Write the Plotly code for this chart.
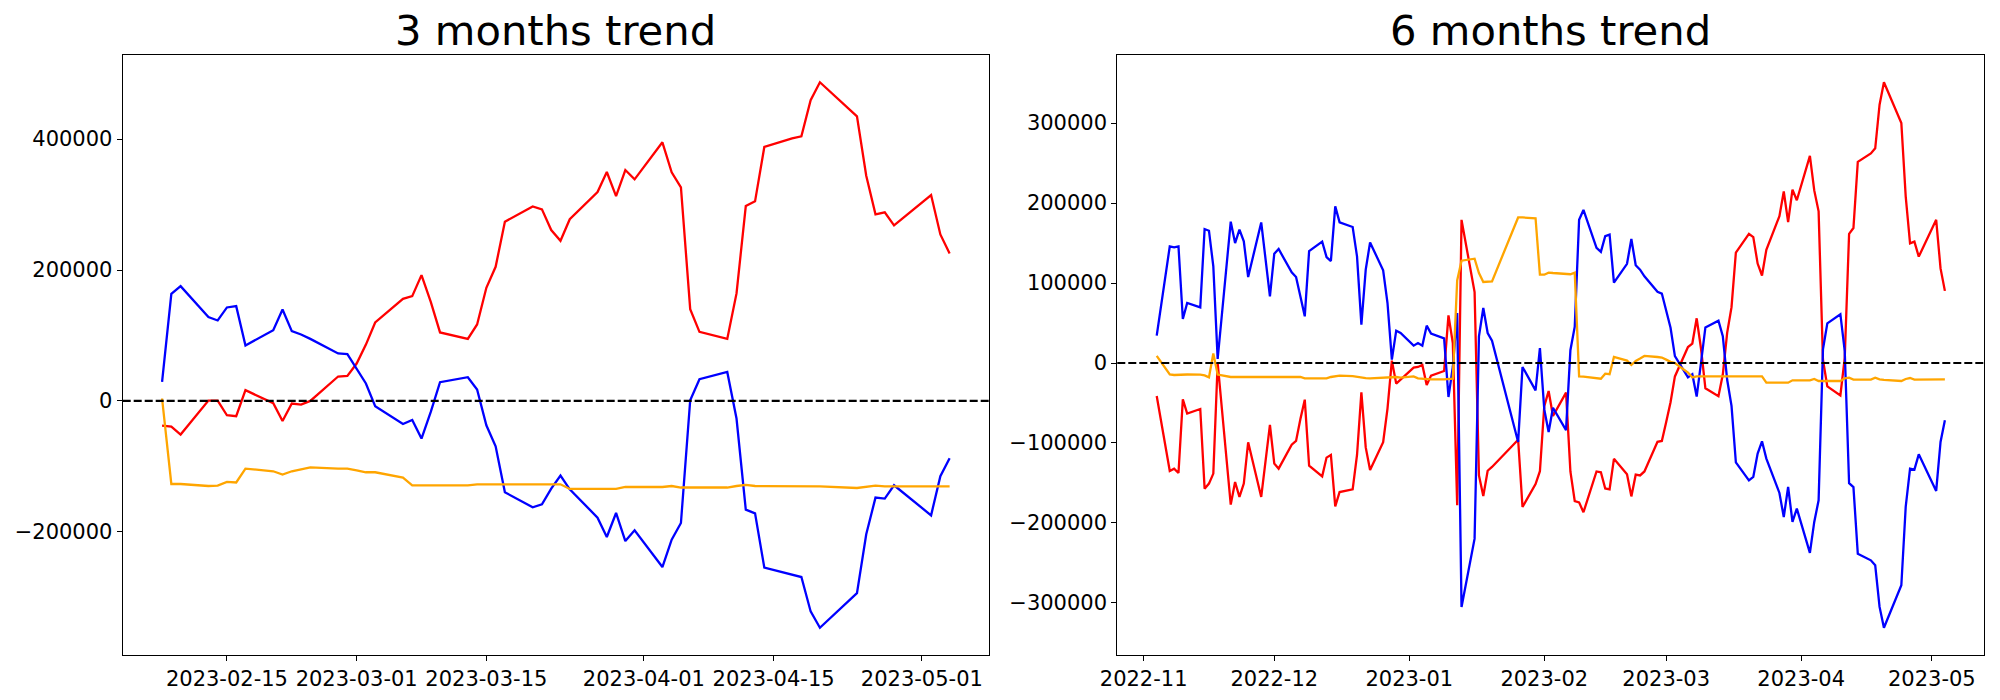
import plotly.graph_objects as go
import pandas as pd

# ---------------- 3 months panel ----------------
dates_3m = [
    "2023-02-08", "2023-02-09", "2023-02-10", "2023-02-13", "2023-02-14", "2023-02-15", "2023-02-16",
    "2023-02-17", "2023-02-20", "2023-02-21", "2023-02-22", "2023-02-23", "2023-02-24", "2023-02-27",
    "2023-02-28",
    "2023-03-01", "2023-03-02", "2023-03-03", "2023-03-06", "2023-03-07", "2023-03-08", "2023-03-09",
    "2023-03-10", "2023-03-13", "2023-03-14", "2023-03-15", "2023-03-16", "2023-03-17", "2023-03-20",
    "2023-03-21", "2023-03-22", "2023-03-23", "2023-03-24", "2023-03-27", "2023-03-28", "2023-03-29",
    "2023-03-30", "2023-03-31",
    "2023-04-03", "2023-04-04", "2023-04-05", "2023-04-06", "2023-04-07", "2023-04-10", "2023-04-11",
    "2023-04-12", "2023-04-13", "2023-04-14", "2023-04-17", "2023-04-18", "2023-04-19", "2023-04-20",
    "2023-04-24", "2023-04-25", "2023-04-26", "2023-04-27", "2023-04-28",
    "2023-05-02", "2023-05-03", "2023-05-04",
]
red_3m = [
    -37600, -39100, -51400, 500, 500, -21900, -23400, 16400, -3500, -30600, -4000, -5500, 0, 37300, 38200,
    57100, 86000, 119900, 156000, 160100, 192200, 151400, 104600, 94800, 116800, 172800, 204900, 273700,
    297200, 292600, 261000, 244600, 277600, 319100, 349700, 313000, 352700, 338500,
    395100, 349200, 326300, 140200, 105500, 94800, 164200, 297700, 304900, 387900, 401200, 404300, 459300,
    486800, 434800, 344000, 285000, 288100, 268200,
    314500, 254400, 225400,
]
blue_3m = [
    29100, 163600, 175400, 128000, 122900, 142800, 144800, 84700, 108100, 139700, 106600, 101500, 94800,
    72500, 71400,
    50000, 26600, -8100, -35200, -29000, -57500, -16800, 28600, 36200, 17400, -37200, -69300, -139600,
    -162500, -157900, -134000, -114100, -135000, -178300, -207900, -171200, -214100, -197700,
    -253800, -211900, -186500, 1000, 33200, 44300, -26900, -166100, -171700, -254700, -265400, -269100,
    -321600, -346500, -293600, -203800, -147700, -149200, -128900,
    -174800, -115100, -87600,
]
orange_3m = [
    3700, -126900, -126900, -130000, -129500, -123800, -124600, -103400, -107500, -112600, -107500,
    -104400, -101400, -103400, -103400,
    -106000, -109000, -109000, -117200, -128900, -128900, -128900, -128900, -128900, -127400, -127400,
    -127400, -127400, -127400, -127400, -127400, -127400, -134500, -134500, -134500, -134500, -131500,
    -131500,
    -131500, -130000, -132300, -132300, -132300, -132300, -130000, -128400, -130000, -130000, -130000,
    -129500, -130000, -130500, -133000, -131000, -129500, -130500, -130500,
    -131000, -130500, -130500,
]
xticks_3m = ["2023-02-15", "2023-03-01", "2023-03-15", "2023-04-01", "2023-04-15", "2023-05-01"]
yticks_3m = [-200000, 0, 200000, 400000]

# ---------------- 6 months panel ----------------
dates_6m = [
    "2022-11-04", "2022-11-07", "2022-11-08", "2022-11-09", "2022-11-10", "2022-11-11", "2022-11-14",
    "2022-11-15", "2022-11-16", "2022-11-17", "2022-11-18", "2022-11-21", "2022-11-22", "2022-11-23",
    "2022-11-24", "2022-11-25", "2022-11-28", "2022-11-29", "2022-11-30",
    "2022-12-01", "2022-12-02", "2022-12-05", "2022-12-06", "2022-12-07", "2022-12-08", "2022-12-09",
    "2022-12-12", "2022-12-13", "2022-12-14", "2022-12-15", "2022-12-16", "2022-12-19", "2022-12-20",
    "2022-12-21", "2022-12-22", "2022-12-23", "2022-12-26", "2022-12-27", "2022-12-28", "2022-12-29",
    "2022-12-30",
    "2023-01-02", "2023-01-03", "2023-01-04", "2023-01-05", "2023-01-06", "2023-01-09", "2023-01-10",
    "2023-01-11", "2023-01-12", "2023-01-13", "2023-01-16", "2023-01-17", "2023-01-18", "2023-01-19",
    "2023-01-20", "2023-01-26", "2023-01-27", "2023-01-30", "2023-01-31",
    "2023-02-01", "2023-02-02", "2023-02-03", "2023-02-06", "2023-02-07", "2023-02-08", "2023-02-09",
    "2023-02-10", "2023-02-13", "2023-02-14", "2023-02-15", "2023-02-16", "2023-02-17", "2023-02-20",
    "2023-02-21", "2023-02-22", "2023-02-23", "2023-02-24", "2023-02-27", "2023-02-28",
    "2023-03-01", "2023-03-02", "2023-03-03", "2023-03-06", "2023-03-07", "2023-03-08", "2023-03-09",
    "2023-03-10", "2023-03-13", "2023-03-14", "2023-03-15", "2023-03-16", "2023-03-17", "2023-03-20",
    "2023-03-21", "2023-03-22", "2023-03-23", "2023-03-24", "2023-03-27", "2023-03-28", "2023-03-29",
    "2023-03-30", "2023-03-31",
    "2023-04-03", "2023-04-04", "2023-04-05", "2023-04-06", "2023-04-07", "2023-04-10", "2023-04-11",
    "2023-04-12", "2023-04-13", "2023-04-14", "2023-04-17", "2023-04-18", "2023-04-19", "2023-04-20",
    "2023-04-24", "2023-04-25", "2023-04-26", "2023-04-27", "2023-04-28",
    "2023-05-02", "2023-05-03", "2023-05-04",
]
red_6m = [
    -41250, -135000, -132100, -137500, -45400, -63300, -57500, -157100, -150800, -138300, 0, -177100,
    -148800, -167500, -150800, -99200, -167500, -122500, -77500,
    -125800, -132100, -102100, -97500, -70000, -45800, -128300, -141700, -118300, -115000, -179200,
    -161300, -157900, -115000, -36700, -105500, -133800, -99000, -57000, 3000, -25800, -20800,
    -5800, -5000, -2500, -27500, -15800, -10000, 59600, 25000, -177800, 179000, 88600, -140600, -166300,
    -134700, -130000, -96000, -180000, -151400, -135300,
    -54000, -35100, -66300, -37100, -135600, -172800, -174300, -186600, -135600, -136600, -156900,
    -157900, -119800, -139100, -166800, -139600, -140600, -135600, -98500, -97500,
    -73800, -49000, -16800, 20000, 24300, 55900, 17800, -31700, -41600, -14400, 37600, 69800, 138100,
    161400, 157400, 124300, 109400, 141600, 183700, 214400, 176200, 216800, 203500,
    258900, 215800, 189600, 4000, -29200, -40600, 6500, 161400, 168800, 251500, 262000, 268500, 323000,
    351000, 300000, 208400, 149500, 151800, 133000,
    179000, 118300, 90200,
]
blue_6m = [
    34200, 145800, 144600, 145800, 55000, 75000, 69600, 167500, 165400, 120800, 5000, 176700, 150000,
    166700, 152100, 107500, 175800, 129600, 83300,
    136700, 142500, 113300, 107500, 83000, 58300, 140000, 151700, 132500, 127500, 195800, 175800,
    170000, 133300, 47900, 116700, 150800, 115800, 75000, 4200, 40400, 37500,
    21700, 25000, 21700, 46700, 36700, 30800, -42500, -5000, 62500, -305000, -219600, 33300, 68800,
    37500, 27900, -98700, -5000, -34200, 18750,
    -58000, -86200, -56000, -84000, 16000, 45400, 179000, 191400, 143900, 138900, 158600, 160600,
    100600, 124000, 155000, 122300, 116700, 108400, 89000, 86800,
    65800, 44000, 8500, -18000, -14000, -42000, 500, 44500, 52900, 33500, -21000, -53500, -124300,
    -146800, -142500, -113300, -97900, -119600, -162500, -192500, -155000, -198750, -182100,
    -237500, -198750, -171700, 17000, 49500, 61000, 15000, -150300, -155200, -238500, -246700, -252900,
    -305000, -331000, -277900, -180000, -132100, -133300, -114200,
    -160000, -98750, -71700,
]
orange_6m = [
    9000, -14400, -15000, -14500, -14400, -14400, -14500, -15500, -18000, 12000, -14400, -17500, -17500,
    -17500, -17500, -17500, -17500, -17500, -17500,
    -17500, -17500, -17500, -17500, -17500, -19200, -19200, -19200, -19200, -17500, -16500, -15800,
    -16500, -17500, -18000, -18800, -19200, -18300, -18300, -18000, -17500, -18300,
    -16700, -19200, -19600, -20000, -20400, -20400, -20400, -19600, 103300, 127900, 130400, 112500,
    101300, 101300, 102100, 182000, 182000, 181000, 110400,
    110400, 113000, 112500, 112000, 111000, 113000, -16700, -17000, -19600, -19600, -13300, -14000,
    7500, 3000, -2500, 2500, 5500, 8800, 7500, 6800,
    4200, 1500, 0, -12000, -18000, -16700, -16700, -16700, -16700, -16700, -16700, -16700, -16700,
    -16700, -16700, -16700, -16700, -24600, -24600, -24600, -24600, -21700, -21700,
    -21700, -20000, -22500, -22500, -22500, -22500, -19200, -18300, -20800, -20800, -20800, -18300,
    -20400, -21000, -22500, -20000, -18800, -20800, -20800,
    -20800, -20800, -20400,
]
xticks_6m = ["2022-11-01", "2022-12-01", "2023-01-01", "2023-02-01", "2023-03-01", "2023-04-01", "2023-05-01"]
yticks_6m = [-300000, -200000, -100000, 0, 100000, 200000, 300000]

titles = ["3 months trend", "6 months trend"]
colors = {"red": "#ff0000", "blue": "#0000ff", "orange": "#ffa500"}

FONT = "DejaVu Sans"
W, H = 2000, 700
left_dom = [122.7 / W, 989.0 / W]
right_dom = [1117.3 / W, 1984.3 / W]
y_dom = [1 - 655.0 / H, 1 - 55.0 / H]


def date_range(dates):
    d = pd.to_datetime(dates)
    pad = (d.max() - d.min()) * 0.05
    return [(d.min() - pad).strftime("%Y-%m-%d %H:%M:%S"), (d.max() + pad).strftime("%Y-%m-%d %H:%M:%S")]


def val_range(*series):
    lo = min(min(s) for s in series)
    hi = max(max(s) for s in series)
    pad = (hi - lo) * 0.05
    return [lo - pad, hi + pad]


fig = go.Figure()
panels = [
    (dates_3m, red_3m, blue_3m, orange_3m, "x", "y"),
    (dates_6m, red_6m, blue_6m, orange_6m, "x2", "y2"),
]
for dates, r, b, o, xa, ya in panels:
    for vals, c in [(r, "red"), (b, "blue"), (o, "orange")]:
        fig.add_trace(go.Scatter(
            x=dates, y=vals, mode="lines",
            line=dict(color=colors[c], width=2.3),
            xaxis=xa, yaxis=ya, showlegend=False, hoverinfo="skip",
        ))

axis_common = dict(
    ticks="outside", ticklen=5, tickwidth=1.1, tickcolor="black",
    showline=True, mirror=True, linecolor="black", linewidth=1.1,
    showgrid=False, zeroline=False, automargin=False,
    tickfont=dict(family=FONT, size=21, color="black"),
)

fig.update_layout(
    width=W, height=H, autosize=False,
    margin=dict(l=0, r=0, t=0, b=0, pad=0),
    paper_bgcolor="white", plot_bgcolor="white",
    xaxis=dict(domain=left_dom, anchor="y", type="date", range=date_range(dates_3m),
               tickvals=xticks_3m, tickformat="%Y-%m-%d", **axis_common),
    yaxis=dict(domain=y_dom, anchor="x", range=val_range(red_3m, blue_3m, orange_3m),
               tickvals=yticks_3m, tickformat="d", **axis_common),
    xaxis2=dict(domain=right_dom, anchor="y2", type="date", range=date_range(dates_6m),
                tickvals=xticks_6m, tickformat="%Y-%m", **axis_common),
    yaxis2=dict(domain=y_dom, anchor="x2", range=val_range(red_6m, blue_6m, orange_6m),
                tickvals=yticks_6m, tickformat="d", **axis_common),
)

for xa, ya in [("x", "y"), ("x2", "y2")]:
    fig.add_shape(type="line", xref=f"{xa} domain", x0=0, x1=1, yref=ya, y0=0, y1=0,
                  line=dict(color="black", width=2.1, dash="8px,3px"), layer="above")

for title, dom in zip(titles, [left_dom, right_dom]):
    fig.add_annotation(text=title, xref="paper", yref="paper",
                       x=(dom[0] + dom[1]) / 2, y=1 - 31.0 / H,
                       xanchor="center", yanchor="middle", showarrow=False,
                       font=dict(family=FONT, size=41.7, color="black"))

fig.write_html(
    "out.html",
    config={"responsive": False, "displayModeBar": False},
    post_script="document.body.style.margin='0px';document.body.style.padding='0px';",
)
